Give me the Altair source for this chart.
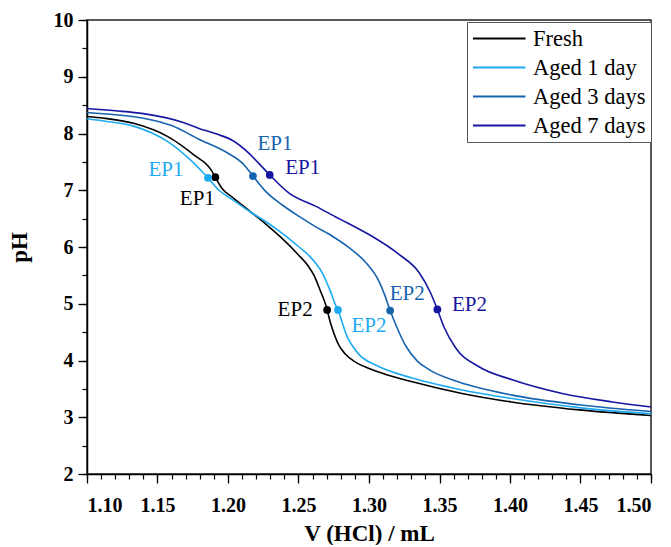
import altair as alt
import pandas as pd

# ---------------- data ----------------
series_names = ["Fresh", "Aged 1 day", "Aged 3 days", "Aged 7 days"]
series_colors = ["#000000", "#1EAAF1", "#1763AE", "#1616A0"]

fresh_v = [1.100, 1.112, 1.133, 1.157, 1.176, 1.188, 1.191, 1.1955, 1.203, 1.215, 1.227, 1.238,
           1.250, 1.257, 1.261, 1.2656, 1.2693, 1.2703, 1.2727, 1.2760, 1.2786, 1.283, 1.2905,
           1.300, 1.310, 1.330, 1.366, 1.401, 1.449, 1.500]
fresh_ph = [8.30, 8.27, 8.18, 7.95, 7.62, 7.36, 7.23, 7.04, 6.88, 6.64, 6.40, 6.16,
            5.86, 5.66, 5.50, 5.22, 4.98, 4.89, 4.66, 4.42, 4.27, 4.12, 3.97,
            3.86, 3.77, 3.63, 3.42, 3.27, 3.13, 3.03]

aged1_v = [1.100, 1.112, 1.133, 1.157, 1.1735, 1.1816, 1.1858, 1.1936, 1.203, 1.215, 1.2267,
           1.2385, 1.2504, 1.2574, 1.2669, 1.2728, 1.2764, 1.278, 1.2811, 1.2845, 1.2882,
           1.2935, 1.3047, 1.3307, 1.366, 1.4014, 1.449, 1.500]
aged1_ph = [8.26, 8.22, 8.13, 7.86, 7.53, 7.33, 7.22, 7.00, 6.84, 6.63, 6.45,
            6.24, 6.00, 5.85, 5.54, 5.21, 4.97, 4.89, 4.66, 4.42, 4.26,
            4.09, 3.92, 3.69, 3.48, 3.33, 3.17, 3.06]

aged3_v = [1.100, 1.120, 1.140, 1.160, 1.1794, 1.1995, 1.2113, 1.2177, 1.2267, 1.2385, 1.2504,
           1.262, 1.274, 1.2858, 1.2976, 1.307, 1.3115, 1.315, 1.319, 1.326, 1.3343,
           1.3426, 1.3638, 1.4016, 1.449, 1.500]
aged3_ph = [8.37, 8.33, 8.27, 8.14, 7.90, 7.66, 7.45, 7.25, 6.98, 6.74, 6.54,
            6.36, 6.19, 5.99, 5.73, 5.40, 5.13, 4.88, 4.63, 4.26, 3.99,
            3.84, 3.62, 3.39, 3.22, 3.10]

aged7_v = [1.100, 1.120, 1.140, 1.1688, 1.1794, 1.192, 1.203, 1.2149, 1.222, 1.2296, 1.2433,
           1.262, 1.2764, 1.2858, 1.300, 1.3213, 1.3355, 1.3437, 1.3485, 1.3532, 1.3615,
           1.378, 1.4016, 1.437, 1.4726, 1.500]
aged7_ph = [8.44, 8.40, 8.35, 8.19, 8.09, 7.99, 7.88, 7.65, 7.47, 7.27, 6.95,
            6.72, 6.53, 6.41, 6.22, 5.87, 5.55, 5.19, 4.90, 4.59, 4.22,
            3.89, 3.66, 3.42, 3.27, 3.18]

ep1_v = [1.191, 1.1858, 1.2177, 1.2296]
ep1_ph = [7.23, 7.22, 7.25, 7.27]
ep2_v = [1.2703, 1.278, 1.315, 1.3485]
ep2_ph = [4.89, 4.89, 4.88, 4.90]
ep1_text = "EP1"
ep2_text = "EP2"

x_major = [1.10, 1.15, 1.20, 1.25, 1.30, 1.35, 1.40, 1.45, 1.50]
x_minor = [round(1.10 + 0.01 * i, 2) for i in range(41)]
y_major = [2, 3, 4, 5, 6, 7, 8, 9, 10]
y_minor = [2 + 0.5 * i for i in range(17)]

# label offsets (style, in pixels)
ep1_dx = [-18, -42, 22, 33]
ep1_dy = [22, -8, -32, -7]
ep2_dx = [-32, 31, 17, 32]
ep2_dy = [0, 16, -17, -4]

FONT = "Liberation Serif"

# ---------------- tables ----------------
frames = []
for name, vs, phs in zip(series_names,
                         [fresh_v, aged1_v, aged3_v, aged7_v],
                         [fresh_ph, aged1_ph, aged3_ph, aged7_ph]):
    frames.append(pd.DataFrame({"V": vs, "pH": phs, "Sample": name}))
lines_df = pd.concat(frames, ignore_index=True)

pts_df = pd.DataFrame({
    "V": ep1_v + ep2_v,
    "pH": ep1_ph + ep2_ph,
    "Sample": series_names + series_names,
})

xscale = alt.Scale(domain=[1.10, 1.50], nice=False, zero=False)
yscale = alt.Scale(domain=[2, 10], nice=False, zero=False)
cscale = alt.Scale(domain=series_names, range=series_colors)

x_axis = alt.Axis(
    orient="bottom", values=x_major, format=".2f", labelOverlap=False, tickSize=9,
    labelFont=FONT, labelFontSize=20, labelFontWeight="bold", labelColor="black",
    labelPadding=12,
    title="V (HCl) / mL", titleFont=FONT, titleFontSize=23, titleFontWeight="bold",
    titleColor="black", titlePadding=7,
    domainColor="black", domainWidth=1.5, tickColor="black", tickWidth=1.3, grid=False,
)
y_axis = alt.Axis(
    orient="left", values=y_major, format="d", labelOverlap=False, tickSize=9,
    labelFont=FONT, labelFontSize=20, labelFontWeight="bold", labelColor="black",
    labelPadding=5,
    title="pH", titleFont=FONT, titleFontSize=23, titleFontWeight="bold",
    titleColor="black", titlePadding=22,
    domainColor="black", domainWidth=1.5, tickColor="black", tickWidth=1.3, grid=False,
)
x_minor_axis = alt.Axis(orient="bottom", values=x_minor, labels=False, title=None, domain=False,
                        tickSize=5, tickColor="black", tickWidth=1.2, grid=False)
y_minor_axis = alt.Axis(orient="left", values=y_minor, labels=False, title=None, domain=False,
                        tickSize=5, tickColor="black", tickWidth=1.2, grid=False)

legend = alt.Legend(
    orient="none", legendX=380, legendY=2, title=None,
    symbolType="M-1,0H4", symbolSize=441, symbolStrokeWidth=1.8,
    labelFont=FONT, labelFontSize=22.5, labelColor="black", labelOffset=38,
    strokeColor="#555", fillColor="white", padding=5, rowPadding=6,
)

lines = alt.Chart(lines_df).mark_line(strokeWidth=1.6, interpolate="monotone").encode(
    x=alt.X("V:Q", scale=xscale, axis=x_axis),
    y=alt.Y("pH:Q", scale=yscale, axis=y_axis),
    color=alt.Color("Sample:N", scale=cscale, legend=legend),
    detail="Sample:N",
)

minor = alt.Chart(lines_df).mark_point(opacity=0).encode(
    x=alt.X("V:Q", scale=xscale, axis=x_minor_axis),
    y=alt.Y("pH:Q", scale=yscale, axis=y_minor_axis),
)

points = alt.Chart(pts_df).mark_circle(size=60, opacity=1).encode(
    x=alt.X("V:Q", scale=xscale, axis=None),
    y=alt.Y("pH:Q", scale=yscale, axis=None),
    color=alt.Color("Sample:N", scale=cscale, legend=None),
)

texts = []
for i, name in enumerate(series_names):
    d1 = pd.DataFrame({"V": [ep1_v[i]], "pH": [ep1_ph[i]], "t": [ep1_text]})
    d2 = pd.DataFrame({"V": [ep2_v[i]], "pH": [ep2_ph[i]], "t": [ep2_text]})
    for d, dx, dy in [(d1, ep1_dx[i], ep1_dy[i]), (d2, ep2_dx[i], ep2_dy[i])]:
        texts.append(
            alt.Chart(d).mark_text(font=FONT, fontSize=21, color=series_colors[i],
                                   align="center", baseline="middle", dx=dx, dy=dy)
            .encode(x=alt.X("V:Q", scale=xscale, axis=None),
                    y=alt.Y("pH:Q", scale=yscale, axis=None), text="t:N")
        )

chart = alt.layer(lines, minor, points, *texts).resolve_axis(
    x="independent", y="independent"
).properties(
    width=564, height=454,
    padding={"left": 0, "top": 2, "right": 5, "bottom": 0},
).configure_view(stroke="#222", strokeWidth=1.5)

chart.save("out.html", embed_options={"renderer": "svg", "actions": False})
